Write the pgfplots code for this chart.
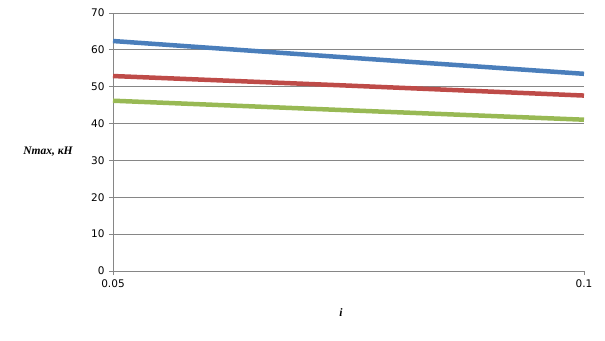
\documentclass[border=0pt]{standalone}
\usepackage{pgfplots}
\pgfplotsset{compat=1.18}
\usepackage{fontspec}
\setmainfont{DejaVu Sans}
\newfontfamily\labfont{Liberation Serif}
\definecolor{cblue}{HTML}{4A7EBB}
\definecolor{cred}{HTML}{BE4B48}
\definecolor{cgreen}{HTML}{98B954}
\definecolor{cgrid}{HTML}{868686}
\begin{document}
\begin{tikzpicture}[x=1pt,y=1pt]
\useasboundingbox (-113,-69) rectangle (492,271);
\begin{axis}[
  at={(0,0)}, anchor=south west,
  scale only axis, width=471pt, height=258pt,
  xmin=0.05, xmax=0.1, ymin=0, ymax=70,
  xtick={0.05,0.1}, xticklabels={0.05,0.1},
  ytick={0,10,...,70},
  ymajorgrids, major grid style={cgrid, line width=0.9pt},
  axis x line*=bottom, axis y line*=left,
  axis line style={cgrid, line width=0.9pt, -},
  tick style={cgrid, line width=0.9pt},
  tick align=outside, major tick length=4pt,
  every tick label/.append style={font=\fontsize{10.5}{12}\selectfont, text=black},
  /pgf/number format/assume math mode=true,
  yticklabel style={xshift=-1pt},
  xticklabel style={yshift=-1pt},
  clip=false,
]
\addplot[cblue, line width=4.5pt] coordinates {(0.05,62.4) (0.075,57.9) (0.1,53.5)};
\addplot[cred, line width=4.5pt] coordinates {(0.05,52.9) (0.075,50.3) (0.1,47.6)};
\addplot[cgreen, line width=4.5pt] coordinates {(0.05,46.2) (0.075,43.6) (0.1,41.05)};
\end{axis}
\node[font=\labfont\bfseries\itshape\fontsize{11.5}{13}\selectfont] at (-65,119) {Nmax, кН};
\node[font=\labfont\bfseries\itshape\fontsize{11.5}{13}\selectfont] at (228,-42) {i};
\end{tikzpicture}
\end{document}
